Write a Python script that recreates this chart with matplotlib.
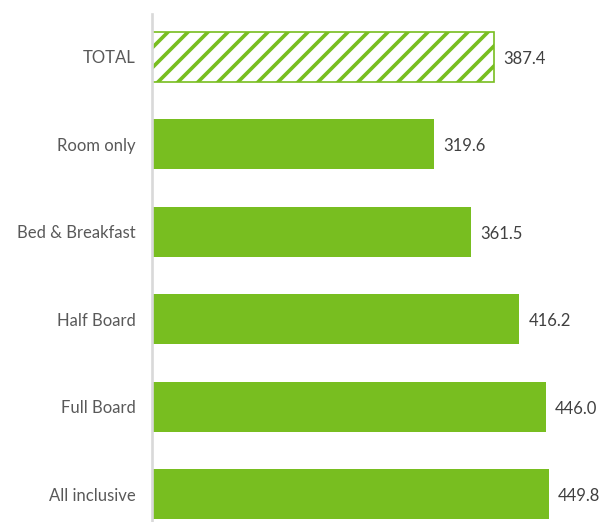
import matplotlib
matplotlib.use("Agg")
import matplotlib.pyplot as plt

# data
categories = ["TOTAL", "Room only", "Bed & Breakfast", "Half Board", "Full Board", "All inclusive"]
values = [387.4, 319.6, 361.5, 416.2, 446.0, 449.8]

GREEN = "#78be20"
DPI = 120

plt.rcParams["font.family"] = ["Lato", "DejaVu Sans"]
plt.rcParams["hatch.linewidth"] = 2.2

fig = plt.figure(figsize=(612 / DPI, 522 / DPI), dpi=DPI)
ax = fig.add_axes([152 / 612, 0.0, 1 - 152 / 612, (522 - 14) / 522])

pos = list(range(len(categories)))
bars = ax.barh(pos, values, height=0.57, color=GREEN, edgecolor=GREEN, linewidth=0)

# TOTAL bar is hatched
bars[0].set_facecolor("white")
bars[0].set_edgecolor(GREEN)
bars[0].set_hatch("//")
bars[0].set_linewidth(1.0)

for p, v in zip(pos, values):
    ax.annotate(f"{v:.1f}", xy=(v, p), xytext=(5.4, -1), textcoords="offset points",
                ha="left", va="center", fontsize=10, color="#404040")

ax.set_yticks(pos)
ax.set_yticklabels(categories, fontsize=10, color="#595959")
ax.tick_params(axis="y", length=0, pad=10)
ax.set_xticks([])
ax.set_xlim(0, 521)
ax.set_ylim(5.316, -0.49)

for s in ["top", "right", "bottom"]:
    ax.spines[s].set_visible(False)
ax.spines["left"].set_color("#d9d9d9")
ax.spines["left"].set_linewidth(1.6)

fig.savefig("out.png", dpi=DPI)
